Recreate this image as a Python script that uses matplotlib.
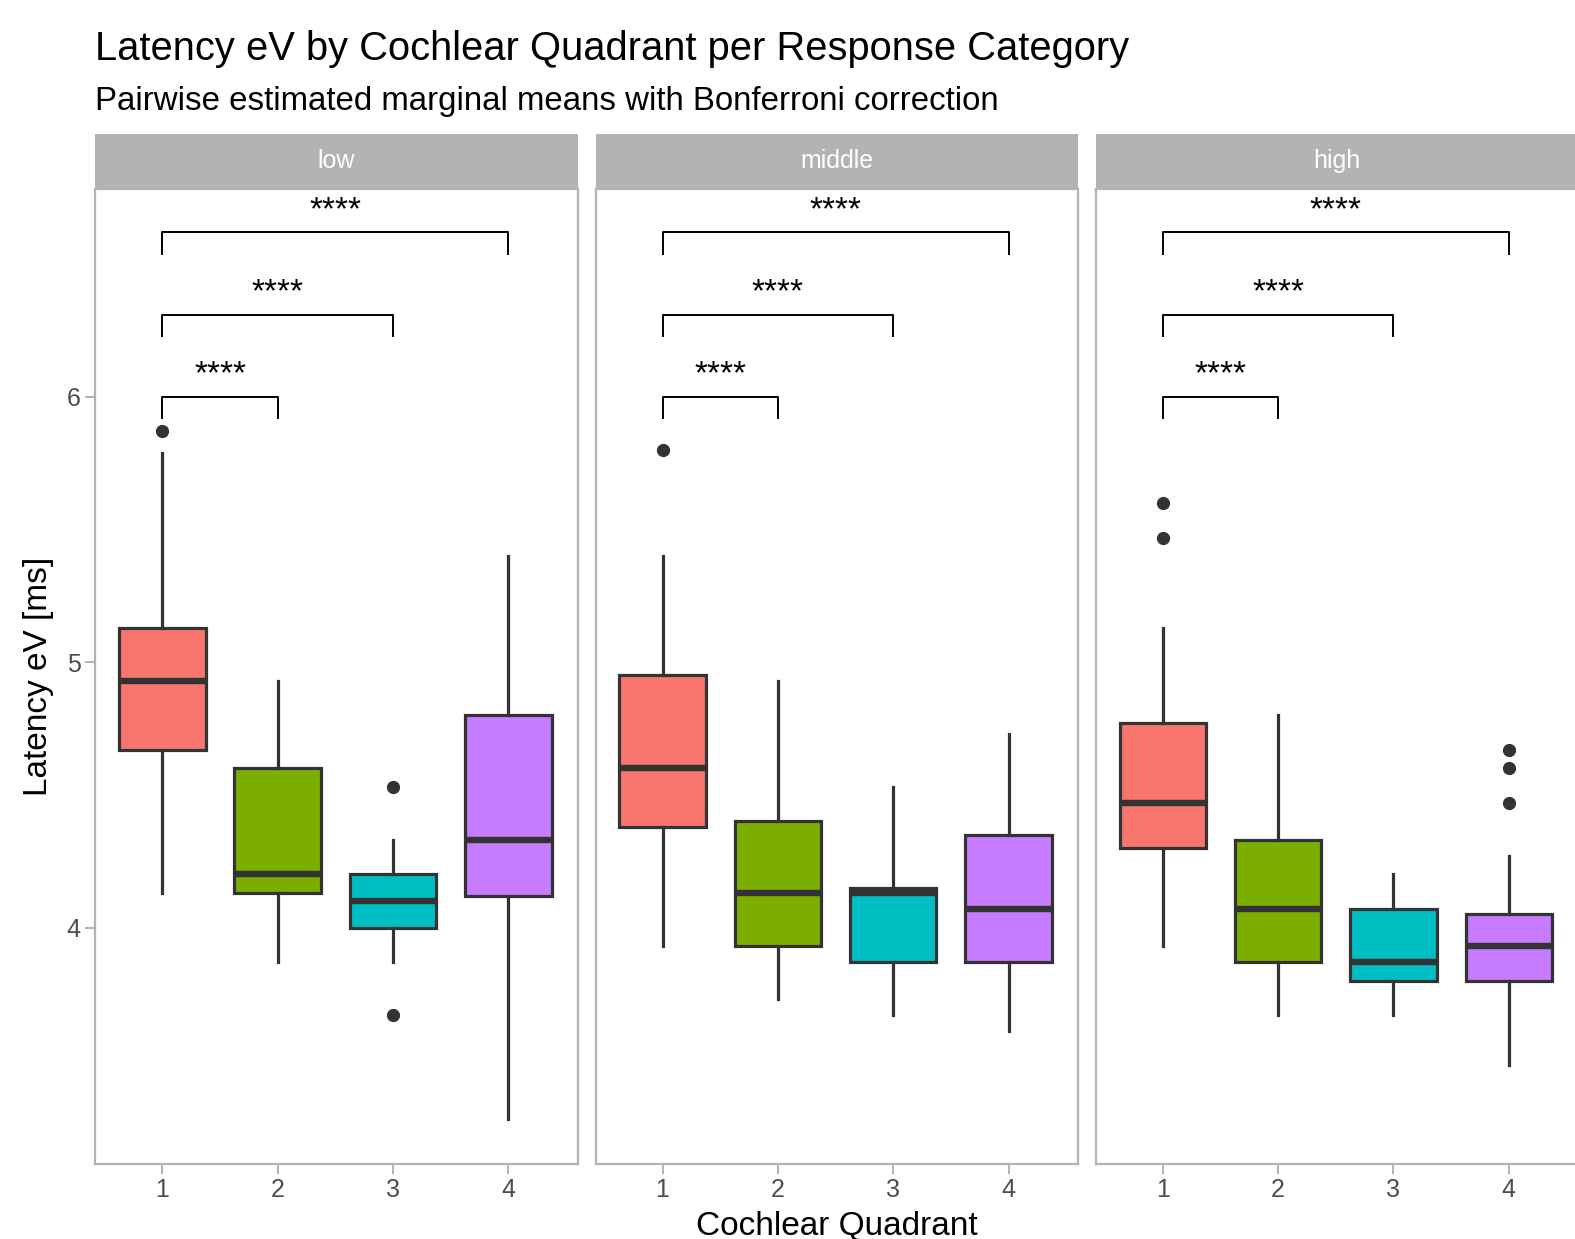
import matplotlib.pyplot as plt
from matplotlib.patches import Rectangle

plt.rcParams['font.family'] = ['Liberation Sans', 'DejaVu Sans']

panels = ["low", "middle", "high"]
quadrants = [1, 2, 3, 4]
colors = ["#F8766D", "#7CAE00", "#00BFC4", "#C77CFF"]

# box statistics per panel, one value per quadrant
whislo = [[4.13, 3.87, 3.87, 3.28],
          [3.93, 3.73, 3.67, 3.61],
          [3.93, 3.67, 3.67, 3.48]]
q1 = [[4.67, 4.13, 4.00, 4.12],
      [4.38, 3.93, 3.87, 3.87],
      [4.30, 3.87, 3.80, 3.80]]
med = [[4.93, 4.20, 4.10, 4.33],
       [4.60, 4.13, 4.13, 4.07],
       [4.47, 4.07, 3.87, 3.93]]
q3 = [[5.13, 4.60, 4.20, 4.80],
      [4.95, 4.40, 4.15, 4.35],
      [4.77, 4.33, 4.07, 4.05]]
whishi = [[5.79, 4.93, 4.33, 5.40],
          [5.40, 4.93, 4.53, 4.73],
          [5.13, 4.80, 4.20, 4.27]]
fliers = [[[5.87], [], [4.53, 3.67], []],
          [[5.80], [], [], []],
          [[5.60, 5.47], [], [], [4.67, 4.60, 4.47]]]

bracket_pairs = [(1, 2), (1, 3), (1, 4)]
bracket_y = [6.0, 6.31, 6.62]
bracket_labels = ["****", "****", "****"]

W, H = 1568, 1233
fig = plt.figure(figsize=(15.75, 12.39), dpi=100)

lefts = [95, 593, 1091]
pw = 480
top_px, bot_px = 188, 1158
strip_top = 133
border = "#B3B3B3"
edge = "#333333"

for i, name in enumerate(panels):
    ax = fig.add_axes([lefts[i] / W, 1 - bot_px / H, pw / W, (bot_px - top_px) / H])
    stats = []
    for j in range(4):
        stats.append(dict(whislo=whislo[i][j], q1=q1[i][j], med=med[i][j],
                          q3=q3[i][j], whishi=whishi[i][j], fliers=fliers[i][j]))
    bp = ax.bxp(stats, positions=quadrants, widths=0.75, patch_artist=True,
                showcaps=False,
                boxprops=dict(edgecolor=edge, linewidth=2.3),
                whiskerprops=dict(color=edge, linewidth=2.3),
                medianprops=dict(color=edge, linewidth=4.6, solid_capstyle='butt'),
                flierprops=dict(marker='o', markerfacecolor=edge, markeredgecolor=edge,
                                markersize=8.5))
    for patch, c in zip(bp['boxes'], colors):
        patch.set_facecolor(c)

    for (a, b), y, lab in zip(bracket_pairs, bracket_y, bracket_labels):
        ax.plot([a, a, b, b], [y - 0.08, y, y, y - 0.08], color='black', lw=1.4)
        ax.text((a + b) / 2, y + 0.025, lab, ha='center', va='bottom', fontsize=24,
                color='black')

    ax.set_xlim(0.42, 4.6)
    ax.set_ylim(3.11, 6.784)
    ax.set_xticks(quadrants)
    ax.set_xticklabels([str(q) for q in quadrants])
    ax.set_yticks([4, 5, 6])
    ax.tick_params(colors=border, labelcolor="#4D4D4D", labelsize=18, width=1.4, length=7)
    if i == 0:
        ax.set_yticklabels(["4", "5", "6"])
    else:
        ax.set_yticklabels([])
        ax.tick_params(axis='y', length=0)
    for s in ax.spines.values():
        s.set_color(border)
        s.set_linewidth(1.6)

    # strip
    fig.patches.append(Rectangle((lefts[i] / W, 1 - top_px / H), pw / W,
                                 (top_px - strip_top) / H, transform=fig.transFigure,
                                 facecolor=border, edgecolor='none'))
    fig.text((lefts[i] + pw / 2) / W, 1 - (strip_top + top_px) / 2 / H, name,
             ha='center', va='center', color='white', fontsize=18)

fig.text(95 / W, 1 - 49 / H, "Latency eV by Cochlear Quadrant per Response Category",
         fontsize=28.7, va='center', ha='left')
fig.text(95 / W, 1 - 101 / H, "Pairwise estimated marginal means with Bonferroni correction",
         fontsize=23.8, va='center', ha='left')
fig.text(38 / W, 1 - 673 / H, "Latency eV [ms]", rotation=90, fontsize=24,
         va='center', ha='center')
fig.text(833 / W, 1 - 1221 / H, "Cochlear Quadrant", fontsize=24,
         va='center', ha='center')

fig.savefig("out.png", dpi=100)
